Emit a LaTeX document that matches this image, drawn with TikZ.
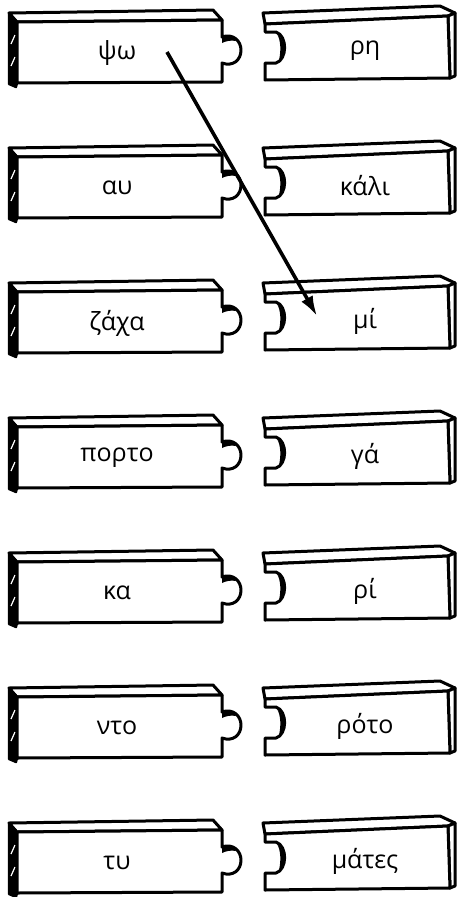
\documentclass[tikz,border=0pt]{standalone}
\usepackage{fontspec}
\setmainfont{Open Sans}
\usetikzlibrary{arrows.meta,calc}

\begin{document}
\begin{tikzpicture}[x=1pt,y=-1pt,
    piece/.style={draw=black,fill=white,line width=3pt,line join=round},
    side/.style={draw=black,fill=black,line width=2.4pt,line join=round},
    word/.style={font=\fontsize{25}{30}\selectfont,inner sep=0pt},
    link/.style={-{Latex[length=20pt,width=13pt]},line width=3.6pt}]
\useasboundingbox (0,0) rectangle (458,897);
\foreach \i/\a/\b in {1/ψω/ρη,2/αυ/κάλι,3/ζάχα/μί,4/πορτο/γά,5/κα/ρί,6/ντο/ρότο,7/τυ/μάτες}{
  \begin{scope}[yshift={-(\i-1)*135}]
  % left piece with knob
  \draw[piece] (9,13) -- (213,10) -- (222,20) -- (17,22) -- cycle;
  \draw[side] (9,13) -- (17,22) -- (17,83) -- (16,87) -- (9,84) -- cycle;
  \draw[white,line width=1.2pt] (11,44) -- (15,35) (11,66) -- (15,57);
  \draw[piece] (17,22) -- (222,20) -- (222,37)
    .. controls (233,33) and (241,41) .. (241,50)
    .. controls (241,60) and (233,67) .. (222,63) -- (222,82) -- (17,83) -- cycle;
  \fill (222,36) .. controls (229,34) and (234,37) .. (236,41)
    .. controls (231,40) and (226,41) .. (222,43) -- cycle;
  \node[word] (l\i) at (117,53) {\a};
  % right piece with socket
  \draw[piece] (263,13) -- (440,6) -- (455,13) -- (448,16) -- (265,24) -- cycle;
  \draw[piece] (448,16) -- (455,13) -- (455,76) -- (450,78) -- cycle;
  \draw[piece] (265,24) -- (448,16) -- (450,78) -- (265,80) -- (265,63) -- (276,63)
    .. controls (287,60) and (288,36) .. (276,32) -- (265,32) -- cycle;
  \fill (277,34) .. controls (285,38) and (286,55) .. (279,60)
    .. controls (281,52) and (281,40) .. cycle;
  \node[word] (r\i) at (365,51) {\b};
  \end{scope}
}
\draw[link] ($(l1.center)+(50,-1)$) -- ($(r3.center)+(-48,-5)$);
\end{tikzpicture}
\end{document}
